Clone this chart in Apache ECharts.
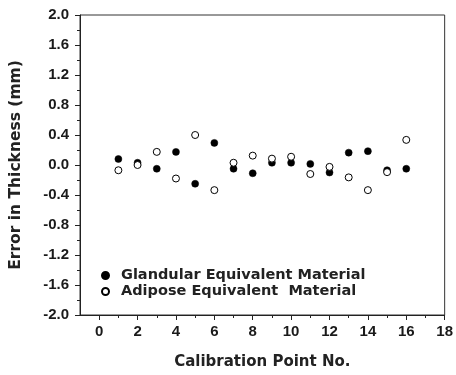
<!DOCTYPE html>
<html><head><meta charset="utf-8">
<script src="https://cdn.jsdelivr.net/npm/echarts@6/dist/echarts.min.js"></script>
<style>html,body{margin:0;padding:0;background:#fff}#c{width:456px;height:375px}</style>
</head><body><div id="c"></div>
<script>
var calibrationPoints = [1,2,3,4,5,6,7,8,9,10,11,12,13,14,15,16];
var glandularError = [0.08,0.03,-0.05,0.175,-0.25,0.295,-0.05,-0.11,0.03,0.03,0.015,-0.10,0.165,0.185,-0.07,-0.05];
var adiposeError = [-0.07,0.00,0.175,-0.18,0.40,-0.335,0.03,0.125,0.085,0.11,-0.12,-0.025,-0.165,-0.335,-0.095,0.335];
var xMajorTicks = [0,2,4,6,8,10,12,14,16,18];
var xMinorTicks = [1,3,5,7,9,11,13,15,17];
var seriesNames = ['Glandular Equivalent Material','Adipose Equivalent  Material'];

function pairs(xs, ys){ return xs.map(function(x,i){return [x, ys[i]];}); }

var chart = echarts.init(document.getElementById('c'));
var labelFont = {fontFamily:'Liberation Sans, Arial, sans-serif', fontWeight:'bold', fontSize:15, color:'#1a1a1a'};
var titleFont = {fontFamily:'DejaVu Sans', fontWeight:'bold', fontSize:15, color:'#222'};
chart.setOption({
  animation:false,
  backgroundColor:'#fff',
  grid:{left:77, right:11, top:15, bottom:60, show:true, borderColor:'#333', borderWidth:1, backgroundColor:'transparent'},
  legend:{
    orient:'vertical', left:96, top:263, itemWidth:7, itemHeight:7, itemGap:1,
    data:seriesNames,
    textStyle:{fontFamily:'DejaVu Sans', fontWeight:'bold', fontSize:14.5, color:'#222', padding:[0,0,0,7]}
  },
  xAxis:[{
    type:'value', min:-1, max:18,
    name:'Calibration Point No.', nameLocation:'middle', nameGap:40,
    nameTextStyle:titleFont,
    axisLine:{onZero:false, lineStyle:{color:'#222'}},
    axisTick:{length:5, inside:false, customValues:xMajorTicks, lineStyle:{color:'#222'}},
    axisLabel:Object.assign({customValues:xMajorTicks, margin:9}, labelFont),
    splitLine:{show:false}
  },{
    type:'value', min:-1, max:18, position:'bottom',
    axisLine:{show:false, onZero:false},
    axisTick:{length:3, customValues:xMinorTicks, lineStyle:{color:'#222'}},
    axisLabel:{show:false},
    splitLine:{show:false}
  }],
  yAxis:{
    type:'value', min:-2, max:2, interval:0.4,
    name:'Error in Thickness (mm)', nameLocation:'middle', nameGap:56,
    nameTextStyle:Object.assign({}, titleFont, {fontSize:15.5}),
    axisLine:{show:true, onZero:false, lineStyle:{color:'#222'}},
    axisTick:{length:5, lineStyle:{color:'#222'}},
    minorTick:{show:true, splitNumber:2, length:3, lineStyle:{color:'#222'}},
    axisLabel:Object.assign({margin:11, formatter:function(v){return v.toFixed(1);}}, labelFont),
    splitLine:{show:false}
  },
  series:[{
    name:seriesNames[0], type:'scatter', symbol:'circle', symbolSize:7,
    itemStyle:{color:'#000', borderColor:'#000', borderWidth:0.5, opacity:1},
    data:pairs(calibrationPoints, glandularError)
  },{
    name:seriesNames[1], type:'scatter', symbol:'circle', symbolSize:7,
    itemStyle:{color:'#fff', borderColor:'#000', borderWidth:1, opacity:1},
    data:pairs(calibrationPoints, adiposeError)
  }]
});
</script></body></html>
